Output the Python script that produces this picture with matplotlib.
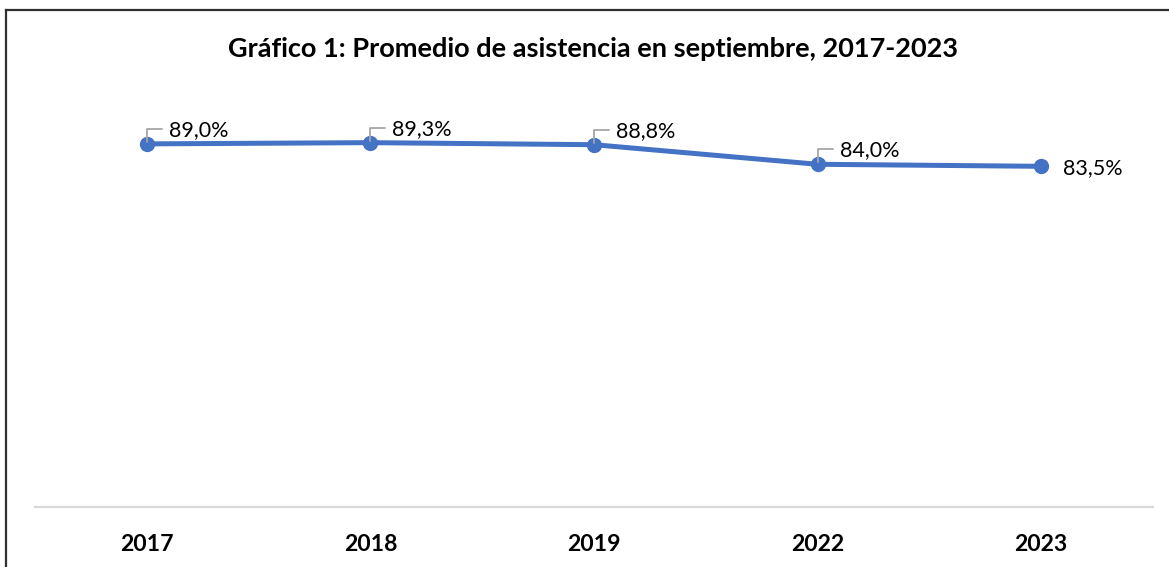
import matplotlib.pyplot as plt
from matplotlib.lines import Line2D

# data
years = ["2017", "2018", "2019", "2022", "2023"]
attendance = [0.890, 0.893, 0.888, 0.840, 0.835]
labels = ["89,0%", "89,3%", "88,8%", "84,0%", "83,5%"]

title = "Gráfico 1: Promedio de asistencia en septiembre, 2017-2023"
blue = "#4472C4"

plt.rcParams['font.family'] = ['Lato', 'DejaVu Sans']

fig = plt.figure(figsize=(11.69, 5.67), dpi=100)
ax = fig.add_axes([35 / 1169, 60 / 567, 1118 / 1169, 408 / 567])

x = range(len(years))
ax.plot(x, attendance, color=blue, linewidth=3.6, marker='o', markersize=10,
        solid_capstyle='round', zorder=3)

# data labels with small leader lines (the last one sits right of its point)
for i, (v, lab) in enumerate(zip(attendance, labels)):
    if i == len(years) - 1:
        ax.annotate(lab, xy=(i, v), xytext=(15.5, -1.5), textcoords='offset points',
                    ha='left', va='center', fontsize=15.5, color='#000000')
    else:
        ax.annotate('', xy=(i, v), xytext=(10.8, 10.8), textcoords='offset points',
                    arrowprops=dict(arrowstyle='-', color='#a6a6a6', lw=1.3,
                                    connectionstyle='angle,angleA=0,angleB=90,rad=0',
                                    shrinkA=0, shrinkB=1.5))
        ax.annotate(lab, xy=(i, v), xytext=(15.8, 10), textcoords='offset points',
                    ha='left', va='center', fontsize=15.5, color='#000000')

ax.set_xlim(-0.5, len(years) - 0.5)
ax.set_ylim(0, 1)
ax.set_xticks(list(x))
ax.set_xticklabels(years, fontsize=16.6, fontweight='bold')
ax.tick_params(axis='x', length=0, pad=19.5)
ax.set_yticks([])

for s in ['top', 'left', 'right']:
    ax.spines[s].set_visible(False)
ax.spines['bottom'].set_color('#d9d9d9')
ax.spines['bottom'].set_linewidth(1.6)

fig.text(593 / 1169, 1 - 49 / 567, title, ha='center', va='center',
         fontsize=19.5, fontweight='bold')

# chart frame (top and left edges visible)
fig.add_artist(Line2D([6 / 1169, 1], [1 - 10 / 567, 1 - 10 / 567],
                      color='#303030', linewidth=1.6))
fig.add_artist(Line2D([6 / 1169, 6 / 1169], [0, 1 - 10 / 567],
                      color='#303030', linewidth=1.6))

fig.savefig('out.png', dpi=100)
